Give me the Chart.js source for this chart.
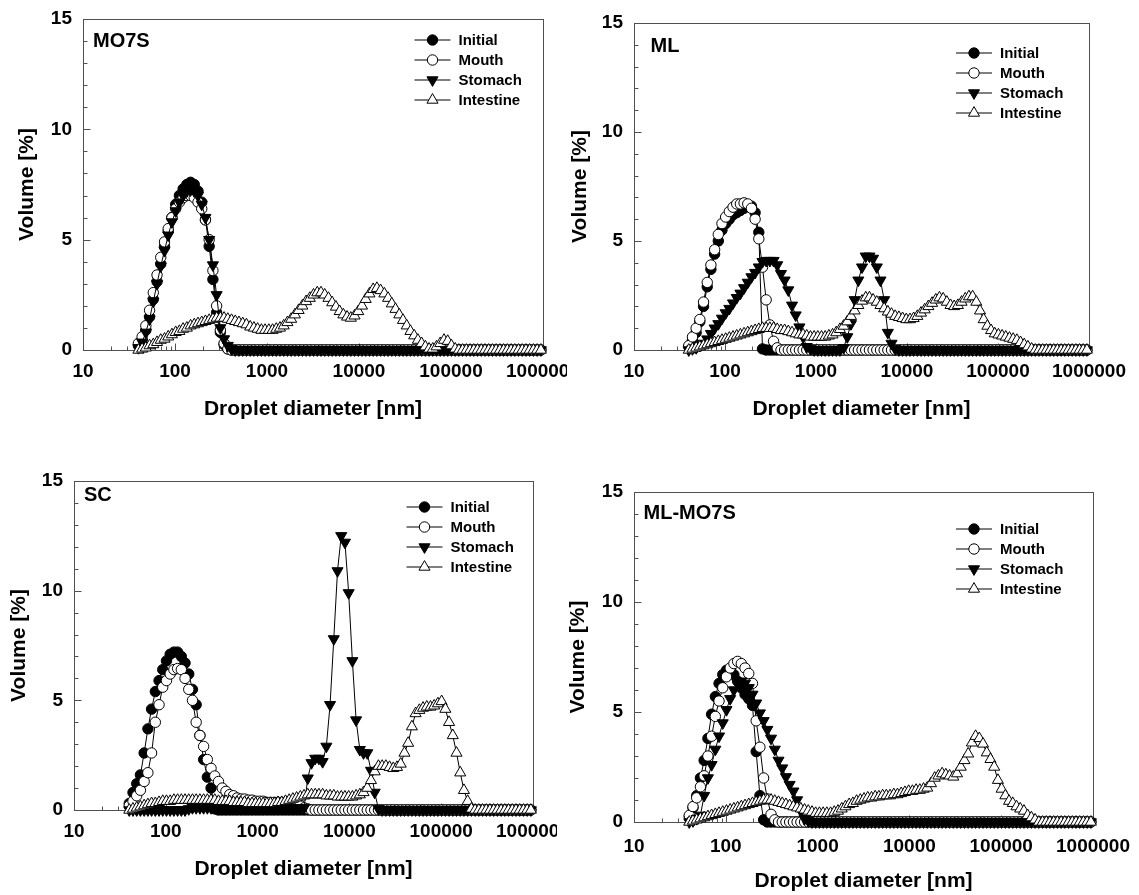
<!DOCTYPE html>
<html>
<head>
<meta charset="utf-8">
<title>Droplet size distributions</title>
<script src="https://cdn.jsdelivr.net/npm/chart.js@4.4.1/dist/chart.umd.min.js"></script>
<style>
  html, body { margin: 0; padding: 0; background: #fff; }
  body { width: 1139px; height: 895px; position: relative; overflow: hidden; }
  canvas { position: absolute; }
</style>
</head>
<body>
<canvas id="mo7s" width="567" height="430" style="left:0;top:0"></canvas>
<canvas id="ml" width="579" height="430" style="left:560px;top:0"></canvas>
<canvas id="sc" width="557" height="455" style="left:0;top:440px"></canvas>
<canvas id="mlmo7s" width="579" height="455" style="left:560px;top:440px"></canvas>
<script>
// size classes of the diffraction analyser, nm
const sizes = [
  40.0, 43.9, 48.2, 52.9, 58.1, 63.8, 70.0, 76.9, 84.4, 92.6,
  101.7, 111.6, 122.5, 134.5, 147.6, 162.0, 177.8, 195.2, 214.2, 235.2,
  258.2, 283.4, 311.1, 341.6, 375, 412, 452, 496, 545, 598,
  657, 721, 791, 869, 953, 1047, 1149, 1261, 1385, 1520,
  1668, 1832, 2011, 2207, 2423, 2660, 2920, 3205, 3519, 3863,
  4240, 4655, 5110, 5610, 6158, 6760, 7421, 8147, 8943, 9818,
  10780, 11830, 12990, 14260, 15650, 17180, 18860, 20710, 22730, 24950,
  27390, 30070, 33010, 36240, 39780, 43670, 47940, 52620, 57770, 63410,
  69610, 76420, 83890, 92090, 101100, 111000, 121800, 133700, 146800, 161200,
  176900, 194200, 213200, 234100, 256900, 282100, 309600, 339900, 373100, 409600,
  449700, 493600, 541900, 594900, 653000, 716800, 786900, 863900, 948300
];

const seriesNames = ["Initial", "Mouth", "Stomach", "Intestine"];
const xTicks = [10, 100, 1000, 10000, 100000, 1000000];
const yTicks = [0, 5, 10, 15];

// MO7S
const mo7sInitial = [
  0.2, 0.45, 0.9, 1.5, 2.3, 3.1, 3.9, 4.7, 5.4, 6.0,
  6.6, 7.0, 7.3, 7.5, 7.6, 7.5, 7.2, 6.7, 5.9, 4.7,
  3.2, 1.7, 0.8, 0.25, 0.05, 0, 0, 0, 0, 0,
  0,0,0,0,0,0,0,0,0,0, 0,0,0,0,0,0,0,0,0,0, 0,0,0,0,0,0,0,0,0,0,
  0,0,0,0,0,0,0,0,0,0, 0,0,0,0,0,0,0,0,0,0, 0,0,0,0,0,0,0,0,0,0,
  0,0,0,0,0,0,0,0,0,0, 0,0,0,0,0,0,0,0,0
];
const mo7sMouth = [
  0.3, 0.6, 1.1, 1.8, 2.6, 3.4, 4.2, 4.9, 5.5, 6.0,
  6.4, 6.7, 6.9, 7.0, 7.0, 6.9, 6.7, 6.4, 5.9, 5.0,
  3.6, 2.0, 0.9, 0.3, 0.05, 0, 0, 0, 0, 0,
  0,0,0,0,0,0,0,0,0,0, 0,0,0,0,0,0,0,0,0,0, 0,0,0,0,0,0,0,0,0,0,
  0,0,0,0,0,0,0,0,0,0, 0,0,0,0,0,0,0,0,0,0, 0,0,0,0,0,0,0,0,0,0,
  0,0,0,0,0,0,0,0,0,0, 0,0,0,0,0,0,0,0,0
];
const mo7sStomach = [
  0.1, 0.35, 0.8, 1.4, 2.2, 3.0, 3.8, 4.5, 5.2, 5.8,
  6.3, 6.7, 7.0, 7.2, 7.25, 7.2, 7.0, 6.6, 6.0, 5.0,
  3.85, 2.5, 1.0, 0.5, 0.2, 0.05, 0, 0, 0, 0,
  0,0,0,0,0,0,0,0,0,0, 0,0,0,0,0,0,0,0,0,0, 0,0,0,0,0,0,0,0,0,0,
  0,0,0,0,0,0,0,0,0,0, 0,0,0,0,0,0,0,0,0,0, 0,0,0,0,0,0,0,0,0,0,
  0,0,0,0,0,0,0,0,0,0, 0,0,0,0,0,0,0,0,0
];
const mo7sIntestine = [
  0, 0.05, 0.1, 0.2, 0.25, 0.35, 0.45, 0.5, 0.6, 0.7,
  0.8, 0.85, 0.95, 1.0, 1.1, 1.15, 1.2, 1.25, 1.3, 1.35,
  1.4, 1.45, 1.45, 1.45, 1.4, 1.35, 1.3, 1.25, 1.2, 1.15,
  1.05, 1.0, 0.95, 0.9, 0.9, 0.9, 0.9, 0.95, 1.0, 1.1,
  1.25, 1.4, 1.6, 1.8, 2.0, 2.2, 2.35, 2.5, 2.6, 2.6,
  2.5, 2.35, 2.15, 1.95, 1.75, 1.6, 1.5, 1.45, 1.55, 1.75,
  2.0, 2.3, 2.55, 2.75, 2.8, 2.7, 2.55, 2.35, 2.1, 1.85,
  1.6, 1.35, 1.1, 0.85, 0.65, 0.45, 0.3, 0.15, 0.05, 0.05,
  0.15, 0.3, 0.45, 0.4, 0.2, 0.05, 0, 0, 0, 0,
  0,0,0,0,0,0,0,0,0,0, 0,0,0,0,0,0,0,0,0
];

// ML
const mlInitial = [
  0.15, 0.45, 0.8, 1.3, 2.0, 2.9, 3.7, 4.4, 5.0, 5.5,
  5.8, 6.0, 6.2, 6.3, 6.4, 6.5, 6.6, 6.6, 6.3, 5.4,
  0.05, 0, 0, 0, 0, 0, 0, 0, 0, 0,
  0,0,0,0,0,0,0,0,0,0, 0,0,0,0,0,0,0,0,0,0, 0,0,0,0,0,0,0,0,0,0,
  0,0,0,0,0,0,0,0,0,0, 0,0,0,0,0,0,0,0,0,0, 0,0,0,0,0,0,0,0,0,0,
  0,0,0,0,0,0,0,0,0,0, 0,0,0,0,0,0,0,0,0
];
const mlMouth = [
  0.2, 0.6, 1.0, 1.4, 2.2, 3.1, 3.9, 4.6, 5.3, 5.8,
  6.1, 6.35, 6.55, 6.7, 6.7, 6.75, 6.7, 6.5, 6.0, 5.1,
  3.8, 2.3, 1.15, 0.4, 0.1, 0, 0, 0, 0, 0,
  0,0,0,0,0,0,0,0,0,0, 0,0,0,0,0,0,0,0,0,0, 0,0,0,0,0,0,0,0,0,0,
  0,0,0,0,0,0,0,0,0,0, 0,0,0,0,0,0,0,0,0,0, 0,0,0,0,0,0,0,0,0,0,
  0,0,0,0,0,0,0,0,0,0, 0,0,0,0,0,0,0,0,0
];
const mlStomach = [
  0, 0.05, 0.1, 0.2, 0.3, 0.5, 0.75, 1.0, 1.2, 1.45,
  1.7, 1.9, 2.15, 2.4, 2.6, 2.85, 3.1, 3.35, 3.55, 3.8,
  4.05, 4.1, 4.1, 4.1, 3.9, 3.5, 3.2, 2.75, 2.05, 1.6,
  1.05, 0.6, 0.15, 0.05, 0, 0, 0, 0, 0, 0,
  0, 0, 0.1, 0.6, 1.2, 2.3, 3.2, 3.8, 4.3, 4.3,
  4.2, 3.8, 3.2, 2.3, 0.8, 0.3, 0.05, 0, 0, 0,
  0,0,0,0,0,0,0,0,0,0, 0,0,0,0,0,0,0,0,0,0, 0,0,0,0,0,0,0,0,0,0,
  0,0,0,0,0,0,0,0,0,0, 0,0,0,0,0,0,0,0,0
];
const mlIntestine = [
  0, 0.05, 0.1, 0.15, 0.2, 0.25, 0.3, 0.35, 0.4, 0.45,
  0.5, 0.55, 0.6, 0.65, 0.7, 0.75, 0.8, 0.85, 0.9, 0.95,
  1.0, 1.0, 1.0, 1.0, 0.95, 0.9, 0.9, 0.85, 0.8, 0.75,
  0.7, 0.7, 0.65, 0.6, 0.6, 0.6, 0.6, 0.6, 0.65, 0.7,
  0.8, 0.95, 1.1, 1.3, 1.55, 1.8, 2.05, 2.25, 2.4, 2.4,
  2.3, 2.2, 2.05, 1.9, 1.75, 1.65, 1.55, 1.5, 1.45, 1.4,
  1.4, 1.45, 1.55, 1.7, 1.85, 2.0, 2.15, 2.3, 2.4, 2.35,
  2.2, 2.05, 2.0, 2.05, 2.2, 2.35, 2.45, 2.45, 2.2, 1.8,
  1.4, 1.1, 0.9, 0.75, 0.7, 0.65, 0.6, 0.55, 0.5, 0.45,
  0.35, 0.25, 0.15, 0.05, 0, 0, 0, 0, 0, 0,
  0,0,0,0,0,0,0,0,0
];

// SC
const scInitial = [
  0.3, 0.8, 1.2, 1.6, 2.6, 3.7, 4.6, 5.4, 5.9, 6.4,
  6.8, 7.1, 7.2, 7.2, 7.0, 6.7, 6.2, 5.5, 4.8, 3.4,
  2.3, 1.5, 1.0, 0.05, 0, 0, 0, 0, 0, 0,
  0,0,0,0,0,0,0,0,0,0, 0,0,0,0,0,0,0,0,0,0, 0,0,0,0,0,0,0,0,0,0,
  0,0,0,0,0,0,0,0,0,0, 0,0,0,0,0,0,0,0,0,0, 0,0,0,0,0,0,0,0,0,0,
  0,0,0,0,0,0,0,0,0,0, 0,0,0,0,0,0,0,0,0
];
const scMouth = [
  0.2, 0.4, 0.65, 0.9, 1.3, 1.7, 2.6, 4.0, 4.8, 5.6,
  5.9, 6.2, 6.4, 6.45, 6.4, 6.0, 5.5, 5.0, 4.0, 3.4,
  2.9, 2.3, 1.9, 1.55, 1.3, 1.0, 0.85, 0.7, 0.65, 0.55,
  0.5, 0.5, 0.45, 0.45, 0.4, 0.4, 0.4, 0.35, 0.35, 0.35,
  0.35, 0.35, 0.35, 0.3, 0.3, 0.25, 0.2, 0.1, 0.05, 0,
  0,0,0,0,0,0,0,0,0,0, 0,0,0,0,0,0,0,0,0,0, 0,0,0,0,0,0,0,0,0,0,
  0,0,0,0,0,0,0,0,0,0, 0,0,0,0,0,0,0,0,0,0, 0,0,0,0,0,0,0,0,0
];
const scStomach = [
  0, 0, 0, 0, 0, 0, 0, 0, 0, 0,
  0, 0, 0, 0, 0, 0, 0.05, 0.1, 0.1, 0.1,
  0.1, 0.1, 0.1, 0.1, 0.1, 0.1, 0.1, 0.1, 0.1, 0.1,
  0.1, 0.1, 0.1, 0.1, 0.1, 0.1, 0.1, 0.1, 0.1, 0.1,
  0.1, 0.1, 0.1, 0.1, 0.1, 0.1, 0.1, 0.1, 1.45, 2.15,
  2.35, 2.35, 2.2, 2.9, 4.8, 7.8, 10.9, 12.5, 12.2, 9.9,
  6.8, 4.1, 2.75, 2.6, 2.6, 1.8, 0.8, 0.05, 0, 0,
  0,0,0,0,0,0,0,0,0,0, 0,0,0,0,0,0,0,0,0,0, 0,0,0,0,0,0,0,0,0,0,
  0,0,0,0,0,0,0,0,0
];
const scIntestine = [
  0, 0.05, 0.1, 0.15, 0.2, 0.25, 0.3, 0.3, 0.35, 0.4,
  0.4, 0.4, 0.45, 0.45, 0.45, 0.45, 0.45, 0.45, 0.45, 0.45,
  0.45, 0.45, 0.45, 0.45, 0.4, 0.4, 0.4, 0.4, 0.35, 0.35,
  0.35, 0.35, 0.3, 0.3, 0.3, 0.3, 0.3, 0.3, 0.3, 0.3,
  0.35, 0.35, 0.4, 0.45, 0.5, 0.55, 0.6, 0.65, 0.7, 0.7,
  0.7, 0.7, 0.7, 0.65, 0.65, 0.65, 0.6, 0.6, 0.6, 0.6,
  0.6, 0.65, 0.7, 0.8, 1.0, 1.35, 1.75, 2.0, 2.0, 2.0,
  1.95, 1.9, 1.95, 2.1, 2.6, 3.05, 3.8, 4.4, 4.55, 4.65,
  4.7, 4.7, 4.75, 4.85, 4.95, 4.6, 4.0, 3.4, 2.6, 1.7,
  0.9, 0.4, 0.05, 0, 0, 0, 0, 0, 0, 0,
  0,0,0,0,0,0,0,0,0
];

// ML-MO7S
const mlmInitial = [
  0.25, 0.65, 1.2, 2.0, 2.8, 3.8, 4.9, 5.7, 6.3, 6.7,
  6.9, 6.85, 6.7, 6.4, 6.1, 5.8, 5.6, 5.3, 3.2, 1.2,
  0.1, 0, 0, 0, 0, 0, 0, 0, 0, 0,
  0,0,0,0,0,0,0,0,0,0, 0,0,0,0,0,0,0,0,0,0, 0,0,0,0,0,0,0,0,0,0,
  0,0,0,0,0,0,0,0,0,0, 0,0,0,0,0,0,0,0,0,0, 0,0,0,0,0,0,0,0,0,0,
  0,0,0,0,0,0,0,0,0,0, 0,0,0,0,0,0,0,0,0
];
const mlmMouth = [
  0.3, 0.7, 1.1, 1.6, 2.1, 3.0, 3.9, 4.8, 5.5, 6.1,
  6.6, 7.0, 7.2, 7.3, 7.2, 7.0, 6.75, 6.3, 4.6, 3.4,
  2.0, 1.05, 0.35, 0.1, 0, 0, 0, 0, 0, 0,
  0,0,0,0,0,0,0,0,0,0, 0,0,0,0,0,0,0,0,0,0, 0,0,0,0,0,0,0,0,0,0,
  0,0,0,0,0,0,0,0,0,0, 0,0,0,0,0,0,0,0,0,0, 0,0,0,0,0,0,0,0,0,0,
  0,0,0,0,0,0,0,0,0,0, 0,0,0,0,0,0,0,0,0
];
const mlmStomach = [
  0, 0.05, 0.15, 0.3, 1.2, 2.0, 2.6, 3.3, 3.9, 4.5,
  5.1, 5.6, 6.0, 6.3, 6.4, 6.3, 6.1, 5.8, 5.4, 4.95,
  4.6, 4.2, 3.8, 3.3, 2.8, 2.45, 2.05, 1.7, 1.4, 1.0,
  0.5, 0.15, 0.05, 0, 0, 0, 0, 0, 0, 0,
  0,0,0,0,0,0,0,0,0,0, 0,0,0,0,0,0,0,0,0,0, 0,0,0,0,0,0,0,0,0,0,
  0,0,0,0,0,0,0,0,0,0, 0,0,0,0,0,0,0,0,0,0, 0,0,0,0,0,0,0,0,0,0,
  0,0,0,0,0,0,0,0,0
];
const mlmIntestine = [
  0, 0.05, 0.1, 0.15, 0.2, 0.25, 0.3, 0.35, 0.4, 0.45,
  0.5, 0.55, 0.6, 0.65, 0.7, 0.75, 0.8, 0.85, 0.9, 0.95,
  1.0, 1.0, 1.0, 0.95, 0.9, 0.85, 0.8, 0.75, 0.7, 0.65,
  0.6, 0.55, 0.5, 0.45, 0.4, 0.4, 0.4, 0.4, 0.4, 0.45,
  0.5, 0.6, 0.7, 0.8, 0.85, 0.95, 1.0, 1.05, 1.1, 1.1,
  1.15, 1.15, 1.2, 1.2, 1.2, 1.25, 1.25, 1.3, 1.35, 1.4,
  1.4, 1.45, 1.45, 1.5, 1.55, 1.75, 2.0, 2.1, 2.2, 2.15,
  2.1, 2.05, 2.2, 2.5, 2.8, 3.1, 3.6, 3.9, 3.8, 3.55,
  3.15, 2.85, 2.5, 1.9, 1.5, 1.2, 0.95, 0.85, 0.7, 0.6,
  0.5, 0.3, 0.2, 0.1, 0, 0, 0, 0, 0, 0,
  0,0,0,0,0,0,0,0,0
];

const FONT = "'Liberation Sans', Arial, Helvetica, sans-serif";
const AXIS_COLOR = "#505050";

// marker look for Initial, Mouth, Stomach, Intestine
const markers = [
  { style: "circle", rotation: 0, fill: "#000", radius: 5.2 },
  { style: "circle", rotation: 0, fill: "#fff", radius: 5.2 },
  { style: "triangle", rotation: 180, fill: "#000", radius: 6.4 },
  { style: "triangle", rotation: 0, fill: "#fff", radius: 6.4 },
];

const panels = [
  { canvas: "mo7s", title: "MO7S", values: [mo7sInitial, mo7sMouth, mo7sStomach, mo7sIntestine],
    yWidth: 83, xHeight: 80, padTop: 19, padRight: 24, yTitlePad: 15, xTitlePad: 8, xTickPad: 10,
    titleAt: [10, 22.5], legendAt: [128.5, 21] },
  { canvas: "ml", title: "ML", values: [mlInitial, mlMouth, mlStomach, mlIntestine],
    yWidth: 74, xHeight: 80, padTop: 23, padRight: 50, yTitlePad: 8, xTitlePad: 8, xTickPad: 10,
    titleAt: [16.5, 23], legendAt: [133, 30] },
  { canvas: "sc", title: "SC", values: [scInitial, scMouth, scStomach, scIntestine],
    yWidth: 74, xHeight: 85, padTop: 41, padRight: 24, yTitlePad: 7, xTitlePad: 13, xTickPad: 10,
    titleAt: [10, 14], legendAt: [126.5, 26] },
  { canvas: "mlmo7s", title: "ML-MO7S", values: [mlmInitial, mlmMouth, mlmStomach, mlmIntestine],
    yWidth: 74, xHeight: 73, padTop: 52, padRight: 46, yTitlePad: 6, xTitlePad: 1, xTickPad: 13,
    titleAt: [9.5, 21], legendAt: [137, 37] },
];

function drawMarker(ctx, m, x, y) {
  ctx.beginPath();
  if (m.style === "circle") {
    ctx.arc(x, y, m.radius, 0, Math.PI * 2);
  } else {
    let rad = (m.rotation * Math.PI) / 180;
    ctx.moveTo(x + Math.sin(rad) * m.radius, y - Math.cos(rad) * m.radius);
    rad += (2 * Math.PI) / 3;
    ctx.lineTo(x + Math.sin(rad) * m.radius, y - Math.cos(rad) * m.radius);
    rad += (2 * Math.PI) / 3;
    ctx.lineTo(x + Math.sin(rad) * m.radius, y - Math.cos(rad) * m.radius);
    ctx.closePath();
  }
  ctx.fillStyle = m.fill;
  ctx.fill();
  ctx.stroke();
}

// frame with inward ticks, panel label and legend inside the plot
const panelDecor = {
  id: "panelDecor",
  beforeDatasetsDraw(chart) {
    const { ctx, chartArea: a, scales } = chart;
    const L = Math.round(a.left) + 0.5, R = Math.round(a.right) + 0.5;
    const T = Math.round(a.top) + 0.5, B = Math.round(a.bottom) + 0.5;
    ctx.save();
    ctx.strokeStyle = AXIS_COLOR;
    ctx.lineWidth = 1;
    ctx.strokeRect(L, T, R - L, B - T);
    ctx.beginPath();
    for (let v = 1; v < 15; v++) {
      const y = Math.round(scales.y.getPixelForValue(v)) + 0.5;
      ctx.moveTo(L, y);
      ctx.lineTo(L + (v % 5 === 0 ? 7 : 4), y);
    }
    for (let d = 10; d < 1e6; d *= 10) {
      for (let m = 1; m < 10; m++) {
        if (d === 10 && m === 1) continue;
        const x = Math.round(scales.x.getPixelForValue(d * m)) + 0.5;
        ctx.moveTo(x, B);
        ctx.lineTo(x, B - (m === 1 ? 7 : 4));
      }
    }
    ctx.stroke();
    ctx.restore();
  },
  afterDatasetsDraw(chart, args, opts) {
    const { ctx, chartArea: a } = chart;
    ctx.save();
    ctx.fillStyle = "#000";
    ctx.textBaseline = "middle";
    ctx.font = "bold 20px " + FONT;
    ctx.fillText(opts.title, a.left + opts.titleAt[0], a.top + opts.titleAt[1]);

    ctx.font = "bold 15px " + FONT;
    ctx.strokeStyle = "#000";
    ctx.lineWidth = 1;
    const x0 = a.right - opts.legendAt[0];
    chart.data.datasets.forEach((ds, i) => {
      const y = a.top + opts.legendAt[1] + i * 20;
      ctx.beginPath();
      ctx.moveTo(x0, y);
      ctx.lineTo(x0 + 36, y);
      ctx.stroke();
      drawMarker(ctx, markers[i], x0 + 18, y);
      ctx.fillStyle = "#000";
      ctx.fillText(ds.label, x0 + 44, y + 0.5);
    });
    ctx.restore();
  },
};

Chart.defaults.font.family = FONT;
Chart.defaults.color = "#000";

panels.forEach((p) => {
  p.values.forEach((v, i) => {
    if (v.length !== sizes.length) console.error(p.title, seriesNames[i], v.length);
  });

  const datasets = p.values.map((vals, i) => ({
    label: seriesNames[i],
    data: sizes.map((s, k) => ({ x: s, y: vals[k] })),
    order: 4 - i,
    borderColor: "#000",
    borderWidth: 1,
    tension: 0,
    clip: false,
    pointStyle: markers[i].style,
    pointRotation: markers[i].rotation,
    pointRadius: markers[i].radius,
    pointBorderWidth: 1,
    pointBorderColor: "#000",
    pointBackgroundColor: markers[i].fill,
  }));

  new Chart(document.getElementById(p.canvas), {
    type: "line",
    data: { datasets },
    plugins: [panelDecor],
    options: {
      responsive: false,
      animation: false,
      devicePixelRatio: 1,
      events: [],
      layout: { padding: { top: p.padTop, right: p.padRight, left: 0, bottom: 0 } },
      plugins: {
        legend: { display: false },
        tooltip: { enabled: false },
        panelDecor: { title: p.title, titleAt: p.titleAt, legendAt: p.legendAt },
      },
      scales: {
        x: {
          type: "logarithmic",
          min: 10,
          max: 1000000,
          grid: { display: false, drawTicks: false },
          border: { display: false },
          ticks: {
            font: { size: 19, weight: "bold" },
            color: "#000",
            padding: p.xTickPad,
            autoSkip: false,
            maxRotation: 0,
            minRotation: 0,
            callback: (v) => String(v),
          },
          afterBuildTicks: (s) => { s.ticks = xTicks.map((v) => ({ value: v })); },
          afterFit: (s) => { s.height = p.xHeight; s.paddingLeft = 0; s.paddingRight = 0; },
          title: {
            display: true,
            text: "Droplet diameter [nm]",
            font: { size: 21, weight: "bold" },
            color: "#000",
            padding: { top: 0, bottom: p.xTitlePad },
          },
        },
        y: {
          min: 0,
          max: 15,
          grid: { display: false, drawTicks: false },
          border: { display: false },
          ticks: { font: { size: 19, weight: "bold" }, color: "#000", padding: 11 },
          afterBuildTicks: (s) => { s.ticks = yTicks.map((v) => ({ value: v })); },
          afterFit: (s) => { s.width = p.yWidth; s.paddingTop = 0; s.paddingBottom = 0; },
          title: {
            display: true,
            text: "Volume [%]",
            font: { size: 21, weight: "bold" },
            color: "#000",
            padding: { top: p.yTitlePad, bottom: 0 },
          },
        },
      },
    },
  });
});
</script>
</body>
</html>
